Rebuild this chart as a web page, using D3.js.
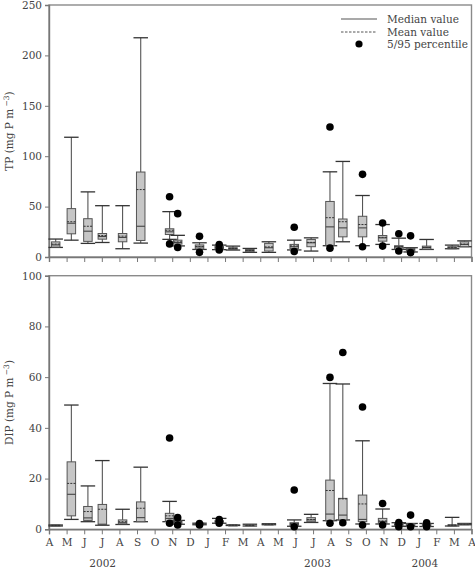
<!DOCTYPE html>
<html>
<head>
<meta charset="utf-8">
<script src="https://cdn.jsdelivr.net/npm/d3@7"></script>
<style>
  body { margin: 0; background: #fff; }
  svg text { font-family: "DejaVu Serif", serif; fill: #444; }
</style>
</head>
<body>
<div id="chart"></div>
<script>

// month labels along the axis (April 2002 .. April 2004)
var monthLabels = ["A","M","J","J","A","S","O","N","D","J","F","M","A","M","J","J","A","S","O","N","D","J","F","M","A"];
var yearLabels = ["2002", "2003", "2004"];
var yearAt = [3.05, 15.25, 21.35];   // month position of the year labels

// sampling time of each box, in months since start of April 2002
var sampleMonth = [0.38, 1.27, 2.21, 3.03, 4.18, 5.21, 6.85, 7.31, 8.55, 9.67, 10.45, 11.41,
                   12.49, 13.93, 14.89, 15.96, 16.69, 17.81, 18.95, 19.87, 20.54, 21.45, 22.9, 23.6];

// TP (mg P m-3)
var tpLo   = [9.5, 16.7, 13.5, 14.4, 8.2, 13.8, 17.5, 11, 7.5, 7.3, 6.9, 4.6, 4.6, 7, 5.9, 11.2, 15.1, 11.2, 12.5, 7.5, 5, 7.5, 8.2, 10.2];
var tpQ1   = [9.8, 23, 15.5, 17.7, 15.1, 16.4, 22.3, 12.8, 8, 7.6, 7.5, 5.2, 5.9, 8.5, 10.2, 11.5, 20, 20, 15.7, 7.9, 5.3, 7.9, 8.2, 10.2];
var tpMed  = [12, 33.5, 25.6, 20.3, 19.4, 30.5, 25, 14.4, 10, 9, 8.3, 6.3, 9.2, 10.2, 14.1, 29.9, 28.9, 28.9, 19, 10.2, 7, 9.5, 9, 12.5];
var tpMean = [12.8, 35, 30.5, 21.3, 20.7, 66.9, 26.5, 15, 10.5, 9.3, 8.5, 6.5, 10, 11, 14.5, 39, 35, 32.2, 19.5, 10, 7, 9.5, 9.2, 12.8];
var tpQ3   = [15, 48, 38, 23.3, 23.3, 84.3, 28, 16.7, 12, 10.5, 9.2, 7.5, 13.5, 12.5, 17.4, 55.1, 37.7, 40.4, 21.3, 11.2, 8.5, 10.8, 10.2, 15.1];
var tpHi   = [17.8, 118.8, 64.6, 50.9, 50.9, 217.5, 45, 21.5, 14.1, 11.8, 10.8, 8.5, 15.1, 16.7, 19, 84.5, 94.8, 61, 32.2, 18.7, 9.2, 17.4, 11.8, 16];
var tpP5   = [null, null, null, null, null, null, 13, 9.5, 4.6, 7, null, null, null, 5.5, null, 8.8, null, 10.2, 10.8, 5.9, 4.3, null, null, null];
var tpP95  = [null, null, null, null, null, null, 59.7, 43, 20.5, 12.3, null, null, null, 29.5, null, 128.9, null, 82, 33.8, 23, 21, null, null, null];

// DIP (mg P m-3)
var dipLo   = [1.3, 3.9, 3, 1.6, 1.9, 3, 3, 2, 1.8, 2.4, 1.5, 1.3, 1.8, 1.2, 2.7, 3.4, 3.7, 2.1, 2.1, 1.2, 1.1, 1.1, 1.3, 1.8];
var dipQ1   = [1.3, 5.3, 3.5, 1.7, 2.1, 3, 3.2, 2.2, 1.8, 2.6, 1.5, 1.4, 1.9, 1.4, 3, 3.4, 3.7, 3, 2.3, 1.3, 1.2, 1.2, 1.3, 1.8];
var dipMed  = [1.5, 13.8, 4.5, 2, 2.6, 4.6, 4.3, 2.8, 2, 3, 1.6, 1.6, 2, 2, 3.7, 6, 5.6, 3.9, 3, 1.8, 1.5, 1.6, 1.7, 2];
var dipMean = [1.5, 18.1, 7, 7.9, 3, 8.3, 5.3, 3, 2.1, 3.1, 1.6, 1.6, 2, 2.2, 3.9, 15.3, 12, 10, 3.3, 1.9, 1.6, 1.7, 1.6, 2];
var dipQ3   = [1.7, 26.6, 9, 9.8, 3.7, 10.8, 6.3, 3.3, 2.4, 3.4, 1.7, 1.9, 2.1, 2.6, 4.6, 19.4, 12.2, 13.5, 4.3, 2.3, 2.2, 2.2, 1.7, 2.3];
var dipHi   = [1.7, 49, 17.1, 27.1, 7.9, 24.5, 11, 3.5, 2.4, 4.3, 1.7, 2, 2.2, 3.7, 5.9, 57.5, 57.3, 34.9, 8, 2.6, 2.3, 2.3, 4.7, 2.3];
var dipP5   = [null, null, null, null, null, null, 2.4, 1.7, 1.7, 2.4, null, null, null, 1, null, 2.4, 2.6, 1.7, 1.7, 1, 1, 1, null, null];
var dipP95  = [null, null, null, null, null, null, 36, 4.6, 2.3, 3.8, null, null, null, 15.5, null, 59.9, 69.7, 48.2, 10.2, 2.7, 5.6, 2.6, null, null];

var w = 475;
var h = 570;
var left = 49, right = 471.5;

var svg = d3.select("#chart")
			.append("svg")
			.attr("width", w)
			.attr("height", h);

var xScale = d3.scaleLinear()
				.domain([0, monthLabels.length - 1])
				.range([left, right]);

function pack(lo, q1, med, mean, q3, hi, p5, p95){
	return sampleMonth.map(function(m, i){
		return {m: m, lo: lo[i], q1: q1[i], med: med[i], mean: mean[i], q3: q3[i], hi: hi[i], p5: p5[i], p95: p95[i]};
	});
}

function panel(data, yMax, yStep, top, bottom, title, showLabels){
	var yScale = d3.scaleLinear()
					.domain([0, yMax])
					.range([bottom, top]);

	var g = svg.append("g");

	// frame
	g.append("rect")
		.attr("x", left).attr("y", top)
		.attr("width", right - left).attr("height", bottom - top)
		.attr("fill", "none").attr("stroke", "#8a8a8a").attr("stroke-width", 1.4);

	var yAxis = d3.axisLeft(yScale)
					.tickValues(d3.range(0, yMax + 1, yStep))
					.tickSize(4)
					.tickPadding(3);
	var ya = g.append("g")
		.attr("transform", "translate(" + left + ",0)")
		.call(yAxis);
	ya.select(".domain").attr("stroke", "#777").attr("stroke-width", 1.4);
	ya.selectAll(".tick line").attr("stroke", "#777");
	ya.selectAll("text").attr("font-size", "10.5px").attr("fill", "#444")
		.attr("font-family", "DejaVu Serif");

	var xAxis = d3.axisBottom(xScale)
					.tickValues(d3.range(0, monthLabels.length))
					.tickSize(5)
					.tickPadding(4)
					.tickFormat(function(d){ return showLabels ? monthLabels[d] : ""; });
	var xa = g.append("g")
		.attr("transform", "translate(0," + bottom + ")")
		.call(xAxis);
	xa.select(".domain").attr("stroke", "#777").attr("stroke-width", 1.4);
	xa.selectAll(".tick line").attr("stroke", "#777");
	xa.selectAll("text").attr("font-size", "10.5px").attr("fill", "#444")
		.attr("font-family", "DejaVu Serif");

	// axis title
	var t = g.append("text")
		.attr("transform", "translate(13," + ((top + bottom) / 2) + ") rotate(-90)")
		.attr("text-anchor", "middle")
		.attr("font-size", "10.5px");
	t.append("tspan").text(title + " (mg P  m");
	t.append("tspan").attr("dy", -4).attr("font-size", "7.5px").text(" \u22123");
	t.append("tspan").attr("dy", 4).text(")");

	var bw = 8.5, cw = 14.5;

	var boxes = g.selectAll("g.box")
		.data(data)
		.enter()
		.append("g")
		.attr("class", "box");

	// whisker
	boxes.append("line")
		.attr("x1", function(d){ return xScale(d.m); })
		.attr("x2", function(d){ return xScale(d.m); })
		.attr("y1", function(d){ return yScale(d.lo); })
		.attr("y2", function(d){ return yScale(d.hi); })
		.attr("stroke", "#555").attr("stroke-width", 1.1);

	// caps
	["lo", "hi"].forEach(function(k){
		boxes.append("line")
			.attr("x1", function(d){ return xScale(d.m) - cw / 2; })
			.attr("x2", function(d){ return xScale(d.m) + cw / 2; })
			.attr("y1", function(d){ return yScale(d[k]); })
			.attr("y2", function(d){ return yScale(d[k]); })
			.attr("stroke", "#333").attr("stroke-width", 1.3);
	});

	// box
	boxes.append("rect")
		.attr("x", function(d){ return xScale(d.m) - bw / 2; })
		.attr("y", function(d){ return yScale(d.q3); })
		.attr("width", bw)
		.attr("height", function(d){ return Math.max(1, yScale(d.q1) - yScale(d.q3)); })
		.attr("fill", "#c6c6c6")
		.attr("stroke", "#555")
		.attr("stroke-width", 1);

	// median
	boxes.append("line")
		.attr("x1", function(d){ return xScale(d.m) - bw / 2; })
		.attr("x2", function(d){ return xScale(d.m) + bw / 2; })
		.attr("y1", function(d){ return yScale(d.med); })
		.attr("y2", function(d){ return yScale(d.med); })
		.attr("stroke", "#444").attr("stroke-width", 1.1);

	// mean
	boxes.append("line")
		.attr("x1", function(d){ return xScale(d.m) - bw / 2; })
		.attr("x2", function(d){ return xScale(d.m) + bw / 2; })
		.attr("y1", function(d){ return yScale(d.mean); })
		.attr("y2", function(d){ return yScale(d.mean); })
		.attr("stroke", "#333").attr("stroke-width", 1)
		.attr("stroke-dasharray", "2,1.2");

	// 5/95 percentile dots
	["p5", "p95"].forEach(function(k){
		g.selectAll("circle." + k)
			.data(data.filter(function(d){ return d[k] != null; }))
			.enter()
			.append("circle")
			.attr("class", k)
			.attr("cx", function(d){ return xScale(d.m); })
			.attr("cy", function(d){ return yScale(d[k]); })
			.attr("r", 3.8)
			.attr("fill", "#000");
	});

	return yScale;
}

panel(pack(tpLo, tpQ1, tpMed, tpMean, tpQ3, tpHi, tpP5, tpP95), 250, 50, 5, 257, "TP", false);
panel(pack(dipLo, dipQ1, dipMed, dipMean, dipQ3, dipHi, dipP5, dipP95), 100, 20, 275.7, 529.3, "DIP", true);

// year labels
svg.selectAll("text.year")
	.data(yearLabels)
	.enter()
	.append("text")
	.attr("class", "year")
	.attr("x", function(d, i){ return xScale(yearAt[i]); })
	.attr("y", 566.5)
	.attr("text-anchor", "middle")
	.attr("font-size", "10.5px")
	.text(function(d){ return d; });

// legend
var lg = svg.append("g");
lg.append("line").attr("x1", 341).attr("x2", 377).attr("y1", 19).attr("y2", 19)
	.attr("stroke", "#555").attr("stroke-width", 1.1);
lg.append("line").attr("x1", 341).attr("x2", 377).attr("y1", 32).attr("y2", 32)
	.attr("stroke", "#555").attr("stroke-width", 1).attr("stroke-dasharray", "2.5,1.5");
lg.append("circle").attr("cx", 359).attr("cy", 44).attr("r", 3.6).attr("fill", "#000");
var legendText = ["Median value", "Mean value", "5/95 percentile"];
lg.selectAll("text")
	.data(legendText)
	.enter()
	.append("text")
	.attr("x", 387)
	.attr("y", function(d, i){ return 23 + i * 12.7; })
	.attr("font-size", "10.5px")
	.text(function(d){ return d; });

</script>
</body>
</html>
